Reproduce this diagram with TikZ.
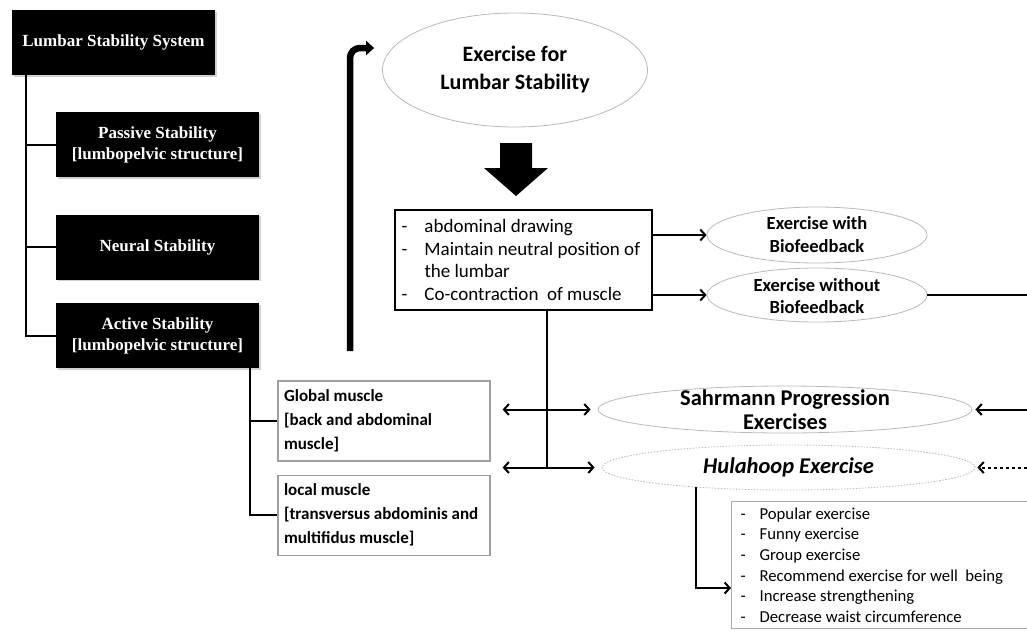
\documentclass[tikz,border=0pt]{standalone}
\usepackage{fontspec}
\setmainfont{Carlito}
\newfontfamily\timesfont{Liberation Serif}
\usetikzlibrary{positioning, shapes.geometric, arrows.meta, calc, shadows}

\tikzset{
  blackbox/.style={fill=black, text=white, align=center, inner sep=2pt,
    minimum width=203pt, minimum height=65pt,
    font=\timesfont\bfseries\fontsize{17}{21}\selectfont,
    drop shadow={shadow xshift=1.5pt, shadow yshift=-1.5pt, fill=black!18, opacity=1}},
  oval/.style={ellipse, draw=gray!55, line width=0.8pt, inner sep=0pt},
  ovaltext/.style={align=center, inner sep=0pt, font=\bfseries\fontsize{22}{28}\selectfont},
  musclebox/.style={draw=gray!75, line width=1.2pt, align=flush left, text width=200pt,
    inner xsep=6pt, minimum height=80pt, font=\bfseries\fontsize{17}{24}\selectfont},
  tree/.style={line width=2pt},
  link/.style={line width=2pt},
  barb/.tip={Straight Barb[length=5pt, width=11pt, line width=2pt]},
  arr/.style={link, -barb},
  biarr/.style={link, barb-barb},
}

\begin{document}
\begin{tikzpicture}[x=1pt, y=-1pt]
  \clip (0,0) rectangle (1027,630);
  \fill[white] (0,0) rectangle (1027,630);

  % stability system
  \node[blackbox] (lss) at (113.5,42.5) {Lumbar Stability System};
  \node[blackbox, below=37pt of lss, xshift=44pt] (passive) {Passive Stability\\{[}lumbopelvic structure]};
  \node[blackbox, below=37pt of passive] (neural) {Neural Stability};
  \node[blackbox, below=23pt of neural] (active) {Active Stability\\{[}lumbopelvic structure]};

  \draw[tree] ([xshift=14pt]lss.south west) |- (passive.west);
  \draw[tree] ([xshift=14pt]lss.south west) |- (neural.west);
  \draw[tree] ([xshift=14pt]lss.south west) |- (active.west);

  % muscles
  \node[musclebox] (global) at (384,421) {Global muscle\\{[}back and abdominal\\muscle]};
  \node[musclebox, below=13pt of global] (local) {local muscle\\{[}transversus abdominis and\\multifidus muscle]};

  \draw[tree] ([xshift=-9pt]active.south east) |- (global.west);
  \draw[tree] ([xshift=-9pt]active.south east) |- (local.west);

  % exercise
  \node[oval, minimum width=265pt, minimum height=114pt] (efls) at (515,70) {};
  \node[ovaltext] (eflstxt) at (efls) {Exercise for\\Lumbar Stability};

  \coordinate (up) at (350,351);
  \draw[line width=6.5pt, rounded corners=10pt, -{Triangle[length=8pt, width=14pt]}]
    (up) |- ([xshift=-8pt, yshift=22pt]efls.west);

  \fill (500,143) -- (532,143) -- (532,168) -- (548,168) -- (516,196) -- (484,168) -- (500,168) -- cycle;

  \node[draw, line width=1.5pt, minimum width=257pt, minimum height=100pt, text width=244pt,
        align=flush left, font=\fontsize{19}{22.7}\selectfont] (method) at (523.5,260)
    {\makebox[23pt][l]{-}abdominal drawing\\
     \makebox[23pt][l]{-}Maintain neutral position of\\
     \makebox[23pt][l]{}the lumbar\\
     \makebox[23pt][l]{-}Co-contraction\ \ of muscle};

  \node[oval, minimum width=220pt, minimum height=56pt] (ewith) at (817,235) {};
  \node[ovaltext, font=\bfseries\fontsize{18.5}{23}\selectfont] (ewithtxt) at (ewith) {Exercise with\\Biofeedback};
  \node[oval, minimum width=220pt, minimum height=54pt] (ewithout) at (817,295) {};
  \node[ovaltext, font=\bfseries\fontsize{18.5}{22}\selectfont] (ewithouttxt) at ([yshift=-1pt]ewithout) {Exercise without\\Biofeedback};

  \draw[arr] (method.east |- ewith.west) -- (ewith.west);
  \draw[arr] (method.east |- ewithout.west) -- (ewithout.west);
  \coordinate (edge1) at (1027,295);
  \draw[link] (ewithout.east) -- (edge1);

  % progression
  \node[oval, minimum width=374pt, minimum height=47pt] (sahr) at (785,409.5) {};
  \node[ovaltext, font=\bfseries\fontsize{22.5}{24}\selectfont] (sahrtxt) at (sahr) {Sahrmann Progression\\Exercises};
  \node[oval, dash pattern=on 1.5pt off 1.5pt, minimum width=373pt, minimum height=45pt] (hula) at (788.5,467.5) {};
  \node[ovaltext, font=\bfseries\itshape\fontsize{22.5}{24}\selectfont] (hulatxt) at (hula) {Hulahoop Exercise};

  \coordinate (hub) at (547,467.5);
  \draw[link] (hub |- method.south) -- (hub);
  \draw[biarr] ($(global.east |- sahr.west)+(12,0)$) -- ($(sahr.west)+(-7,0)$);
  \draw[biarr] ($(local.east |- hula.west)+(12,0)$) -- ($(hula.west)+(-7,0)$);

  \coordinate (edge2) at (1027,409.5);
  \coordinate (edge3) at (1027,467.5);
  \draw[arr, shorten >=3pt] (edge2) -- (sahr.east);
  \draw[arr, dashed, shorten >=2pt] (edge3) -- (hula.east);

  % hulahoop benefits
  \node[draw=gray!65, line width=1.2pt, anchor=north west, text width=320pt, align=flush left,
        inner xsep=9pt, inner ysep=6pt, font=\fontsize{16.7}{20.6}\selectfont] (benefit) at (731,501)
    {\makebox[19pt][l]{-}Popular exercise\\
     \makebox[19pt][l]{-}Funny exercise\\
     \makebox[19pt][l]{-}Group exercise\\
     \makebox[19pt][l]{-}Recommend exercise for well\ \ being\\
     \makebox[19pt][l]{-}Increase strengthening\\
     \makebox[19pt][l]{-}Decrease waist circumference};

  \coordinate (drop) at (696,487);
  \draw[arr] (drop) |- ($(benefit.north west)+(0,87)$);
\end{tikzpicture}
\end{document}
